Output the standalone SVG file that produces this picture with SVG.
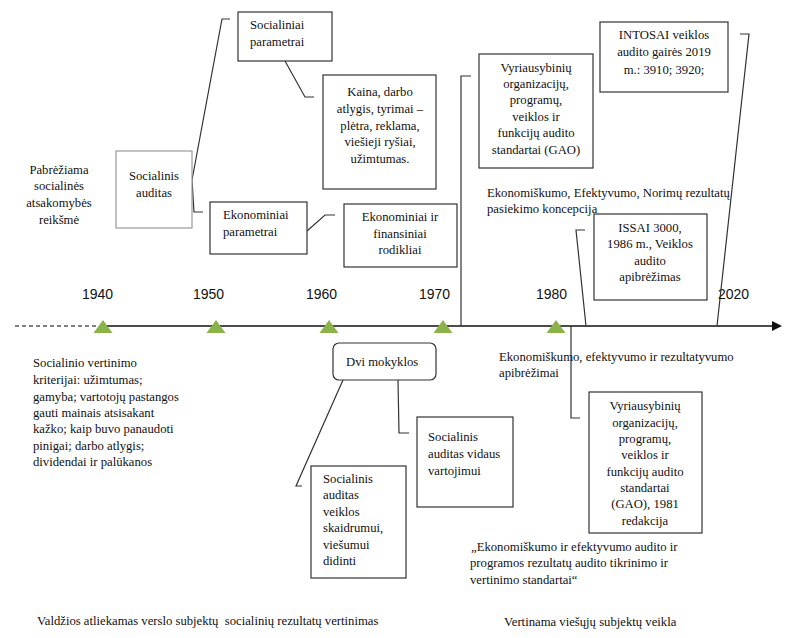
<svg xmlns="http://www.w3.org/2000/svg" width="803" height="638" viewBox="0 0 803 638">
<style>
.t{font-family:"Liberation Serif","Times New Roman",serif;font-size:12.7px;fill:#111}
.c{text-anchor:middle}
.y{font-family:"Liberation Sans",Arial,sans-serif;font-size:14px;fill:#111}
.box{fill:#fff;stroke:#333;stroke-width:1.2}
.lbox{fill:#fff;stroke:#999;stroke-width:1.2}
.ln{fill:none;stroke:#333;stroke-width:1.2}
.tri{fill:#8bb34a}
</style>
<rect width="803" height="638" fill="#fff"/>

<g id="timeline">
<line x1="15" y1="326" x2="100" y2="326" stroke="#555" stroke-width="1.3" stroke-dasharray="4 3"/>
<line x1="100" y1="326" x2="774" y2="326" stroke="#111" stroke-width="1.5"/>
<polygon points="772,321 782,326 772,331" fill="#111"/>
<polygon class="tri" points="93.5,333 103,320 112.5,333"/>
<polygon class="tri" points="206.5,333 216,320 225.5,333"/>
<polygon class="tri" points="319.5,333 329,320 338.5,333"/>
<polygon class="tri" points="433.5,333 443,320 452.5,333"/>
<polygon class="tri" points="546.5,333 556,320 565.5,333"/>
<text class="y" x="82" y="299">1940</text>
<text class="y" x="193" y="299">1950</text>
<text class="y" x="306" y="299">1960</text>
<text class="y" x="419" y="299">1970</text>
<text class="y" x="536" y="299">1980</text>
<text class="y" x="718" y="299">2020</text>
</g>

<g id="connectors">
<polyline class="ln" points="192,180 222,19 230,19"/>
<polyline class="ln" points="192,180 194,212 203,212"/>
<polyline class="ln" points="285,61 305,97 314,97"/>
<polyline class="ln" points="307,231 325,215 335,215"/>
<polyline class="ln" points="461,326 461,76 471,76"/>
<polyline class="ln" points="717,326 749,34 740,34"/>
<polyline class="ln" points="586,326 576,230 585,230"/>
<polyline class="ln" points="571,326 571,418 580,418"/>
<polyline class="ln" points="343,380 296,486 302,486"/>
<polyline class="ln" points="398,380 399,433 409,433"/>
</g>

<g id="pabreziama">
<text class="t c" x="59" y="174">Pabrėžiama</text>
<text class="t c" x="59" y="190">socialinės</text>
<text class="t c" x="59" y="207">atsakomybės</text>
<text class="t c" x="59" y="224">reikšmė</text>
</g>

<g id="socialinis-auditas">
<rect class="lbox" x="116" y="151" width="76" height="77"/>
<text class="t c" x="154" y="180">Socialinis</text>
<text class="t c" x="154" y="197">auditas</text>
</g>

<g id="socialiniai-parametrai">
<rect class="box" x="238" y="12" width="94" height="49"/>
<text class="t" x="250" y="29">Socialiniai</text>
<text class="t" x="250" y="46">parametrai</text>
</g>

<g id="kaina">
<rect class="box" x="323" y="75" width="113" height="114"/>
<text class="t c" x="380" y="96">Kaina, darbo</text>
<text class="t c" x="380" y="113">atlygis, tyrimai –</text>
<text class="t c" x="380" y="130">plėtra, reklama,</text>
<text class="t c" x="380" y="146">viešieji ryšiai,</text>
<text class="t c" x="380" y="163">užimtumas.</text>
</g>

<g id="ekonominiai-parametrai">
<rect class="box" x="210" y="202" width="97" height="52"/>
<text class="t" x="223" y="219">Ekonominiai</text>
<text class="t" x="223" y="236">parametrai</text>
</g>

<g id="ekonominiai-rodikliai">
<rect class="box" x="344" y="204" width="113" height="63"/>
<text class="t c" x="400" y="221">Ekonominiai ir</text>
<text class="t c" x="400" y="238">finansiniai</text>
<text class="t c" x="400" y="254">rodikliai</text>
</g>

<g id="gao">
<rect class="box" x="479" y="54" width="114" height="114"/>
<text class="t c" x="536" y="72">Vyriausybinių</text>
<text class="t c" x="536" y="88">organizacijų,</text>
<text class="t c" x="536" y="104">programų,</text>
<text class="t c" x="536" y="121">veiklos ir</text>
<text class="t c" x="536" y="137">funkcijų audito</text>
<text class="t c" x="536" y="154">standartai (GAO)</text>
</g>

<g id="intosai">
<rect class="box" x="600" y="22" width="128" height="70"/>
<text class="t c" x="664" y="39">INTOSAI veiklos</text>
<text class="t c" x="664" y="56">audito gairės 2019</text>
<text class="t c" x="664" y="74">m.: 3910; 3920;</text>
</g>

<g id="koncepcija">
<text class="t" x="487" y="197">Ekonomiškumo, Efektyvumo, Norimų rezultatų</text>
<text class="t" x="487" y="213">pasiekimo koncepcija</text>
</g>

<g id="issai">
<rect class="box" x="594" y="214" width="113" height="86"/>
<text class="t c" x="650" y="232">ISSAI 3000,</text>
<text class="t c" x="650" y="248">1986 m., Veiklos</text>
<text class="t c" x="650" y="265">audito</text>
<text class="t c" x="650" y="281">apibrėžimas</text>
</g>

<g id="kriterijai">
<text class="t" x="33" y="367">Socialinio vertinimo</text>
<text class="t" x="33" y="384">kriterijai: užimtumas;</text>
<text class="t" x="33" y="401">gamyba; vartotojų pastangos</text>
<text class="t" x="33" y="417">gauti mainais atsisakant</text>
<text class="t" x="33" y="433">kažko; kaip buvo panaudoti</text>
<text class="t" x="33" y="450">pinigai; darbo atlygis;</text>
<text class="t" x="33" y="466">dividendai ir palūkanos</text>
</g>

<g id="dvi-mokyklos">
<rect class="box" x="333" y="343" width="103" height="37" rx="6"/>
<text class="t" x="346" y="366">Dvi mokyklos</text>
</g>

<g id="veiklos-skaidrumui">
<rect class="box" x="311" y="466" width="95" height="112"/>
<text class="t" x="323" y="483">Socialinis</text>
<text class="t" x="323" y="499">auditas</text>
<text class="t" x="323" y="516">veiklos</text>
<text class="t" x="323" y="532">skaidrumui,</text>
<text class="t" x="323" y="549">viešumui</text>
<text class="t" x="323" y="565">didinti</text>
</g>

<g id="vidaus-vartojimui">
<rect class="box" x="417" y="417" width="96" height="90"/>
<text class="t" x="428" y="441">Socialinis</text>
<text class="t" x="428" y="458">auditas vidaus</text>
<text class="t" x="428" y="475">vartojimui</text>
</g>

<g id="apibrezimai">
<text class="t" x="499" y="361">Ekonomiškumo, efektyvumo ir rezultatyvumo</text>
<text class="t" x="499" y="377">apibrėžimai</text>
</g>

<g id="gao-1981">
<rect class="box" x="589" y="392" width="113" height="141"/>
<text class="t c" x="645" y="410">Vyriausybinių</text>
<text class="t c" x="645" y="427">organizacijų,</text>
<text class="t c" x="645" y="443">programų,</text>
<text class="t c" x="645" y="459">veiklos ir</text>
<text class="t c" x="645" y="476">funkcijų audito</text>
<text class="t c" x="645" y="492">standartai</text>
<text class="t c" x="645" y="508">(GAO), 1981</text>
<text class="t c" x="645" y="525">redakcija</text>
</g>

<g id="standartai">
<text class="t" x="471" y="551">„Ekonomiškumo ir efektyvumo audito ir</text>
<text class="t" x="470" y="567">programos rezultatų audito tikrinimo ir</text>
<text class="t" x="470" y="584">vertinimo standartai“</text>
</g>

<g id="footer">
<text class="t" x="37" y="625" xml:space="preserve">Valdžios atliekamas verslo subjektų  socialinių rezultatų vertinimas</text>
<text class="t" x="504" y="626">Vertinama viešųjų subjektų veikla</text>
</g>
</svg>
